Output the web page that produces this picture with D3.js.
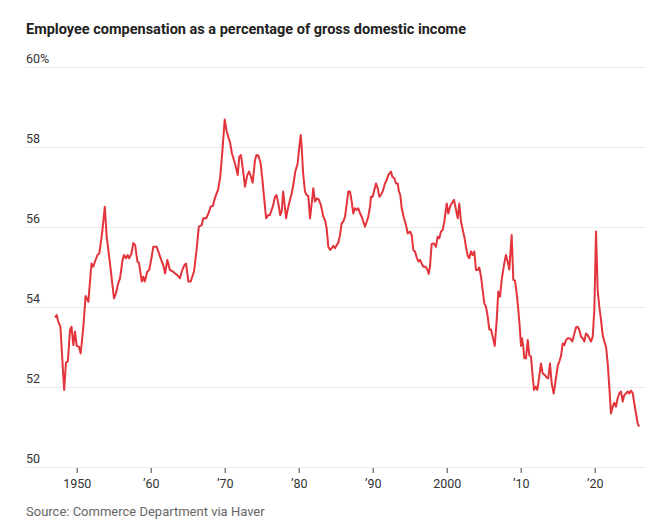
<!DOCTYPE html>
<meta charset="utf-8">
<style>
body { margin: 0; background: #fff; }
svg text { font-family: Roboto, "Noto Sans", sans-serif; }
.title { font-weight: 700; font-size: 14.5px; fill: #222; }
.grid line { stroke: #ebebeb; stroke-width: 1; }
.ylab { font-size: 12.5px; fill: #333; }
.x.axis text { font-size: 12.5px; fill: #333; }
.x.axis line { stroke: #444; }
.source { font-size: 13px; fill: #666; }
.line { fill: none; stroke: #e3343c; stroke-width: 2; stroke-linejoin: round; }
</style>
<body>
<div id="chart"></div>
<script src="https://d3js.org/d3.v7.min.js"></script>
<script>
// quarterly-ish readings, decimal year and percent of GDI
var years = [
  1947.07, 1947.3, 1947.5, 1947.8, 1948.3, 1948.55, 1948.8, 1949.1, 1949.3, 1949.55, 1949.77,
  1950.0, 1950.3, 1950.54, 1950.9, 1951.2, 1951.57, 1952.0, 1952.25, 1952.47, 1952.8,
  1953.05, 1953.4, 1953.5, 1953.8, 1954.05, 1954.6, 1955.04, 1955.3, 1955.6, 1955.85,
  1956.2, 1956.4, 1956.66, 1956.9, 1957.1, 1957.4, 1957.65, 1957.9, 1958.2, 1958.4, 1958.8,
  1959.0, 1959.2, 1959.55, 1959.8, 1960.1, 1960.35, 1960.8, 1961.2, 1961.5, 1961.7, 1961.95,
  1962.25, 1962.6, 1963.0, 1963.3, 1963.6, 1963.96, 1964.2, 1964.5, 1964.77, 1965.1, 1965.4,
  1965.85, 1966.2, 1966.5, 1966.9, 1967.1, 1967.5, 1967.8, 1968.1, 1968.4, 1968.6, 1968.9,
  1969.1, 1969.4, 1969.7, 1970.0, 1970.27, 1970.54, 1970.7, 1970.98, 1971.25, 1971.5, 1971.76,
  1971.97, 1972.2, 1972.5, 1972.74, 1973.05, 1973.3, 1973.55, 1973.78, 1974.1, 1974.3, 1974.55,
  1974.86, 1975.1, 1975.35, 1975.6, 1975.9, 1976.1, 1976.5, 1976.8, 1977.0, 1977.25, 1977.5,
  1977.7, 1977.9, 1978.05, 1978.3, 1978.5, 1978.7, 1979.05, 1979.3, 1979.54, 1979.86, 1980.04,
  1980.27, 1980.4, 1980.6, 1980.85, 1981.08, 1981.3, 1981.53, 1981.76, 1981.97, 1982.2, 1982.47,
  1982.74, 1983.0, 1983.33, 1983.55, 1983.78, 1984.0, 1984.23, 1984.46, 1984.68, 1984.9, 1985.14,
  1985.35, 1985.58, 1985.8, 1986.03, 1986.26, 1986.5, 1986.7, 1986.93, 1987.16, 1987.38, 1987.6,
  1987.84, 1988.05, 1988.3, 1988.5, 1988.73, 1988.96, 1989.2, 1989.4, 1989.64, 1989.77, 1990.0,
  1990.22, 1990.45, 1990.68, 1990.9, 1991.1, 1991.35, 1991.66, 1991.9, 1992.1, 1992.47, 1992.65,
  1992.92, 1993.15, 1993.38, 1993.55, 1993.73, 1993.92, 1994.23, 1994.5, 1994.73, 1995.04, 1995.27,
  1995.49, 1995.72, 1995.95, 1996.16, 1996.39, 1996.62, 1996.84, 1997.16, 1997.38, 1997.57, 1997.74,
  1997.97, 1998.28, 1998.55, 1998.78, 1999.0, 1999.23, 1999.46, 1999.68, 2000.0, 2000.22, 2000.45,
  2000.68, 2000.99, 2001.26, 2001.49, 2001.7, 2001.93, 2002.16, 2002.38, 2002.6, 2002.84, 2003.05,
  2003.28, 2003.5, 2003.73, 2003.96, 2004.19, 2004.4, 2004.64, 2004.86, 2005.08, 2005.31, 2005.54,
  2005.76, 2005.99, 2006.22, 2006.49, 2006.76, 2006.97, 2007.2, 2007.43, 2007.74, 2008.0, 2008.24,
  2008.46, 2008.78, 2009.0, 2009.23, 2009.46, 2009.68, 2009.9, 2010.04, 2010.18, 2010.35, 2010.49,
  2010.72, 2010.95, 2011.16, 2011.39, 2011.62, 2011.8, 2012.03, 2012.24, 2012.47, 2012.74, 2012.97,
  2013.28, 2013.5, 2013.72, 2013.96, 2014.19, 2014.46, 2014.73, 2015.0, 2015.22, 2015.45, 2015.68,
  2015.9, 2016.12, 2016.35, 2016.66, 2016.97, 2017.2, 2017.47, 2017.7, 2017.92, 2018.15, 2018.38,
  2018.6, 2018.82, 2019.05, 2019.27, 2019.5, 2019.73, 2019.95, 2020.18, 2020.4, 2020.62, 2020.85,
  2021.08, 2021.3, 2021.53, 2021.76, 2021.97, 2022.2, 2022.43, 2022.65, 2022.88, 2023.1, 2023.32,
  2023.55, 2023.78, 2024.0, 2024.22, 2024.46, 2024.68, 2024.9, 2025.14, 2025.35, 2025.58, 2025.81,
  2026.0
];
var values = [
  53.73, 53.79, 53.63, 53.5, 51.92, 52.6, 52.63, 53.42, 53.5, 53.04, 53.38,
  53.02, 53.0, 52.83, 53.5, 54.27, 54.12, 55.08, 55.0, 55.13, 55.29,
  55.33, 55.79, 55.96, 56.5, 55.75, 54.92, 54.21, 54.33, 54.58, 54.71,
  55.17, 55.29, 55.21, 55.29, 55.21, 55.33, 55.59, 55.54, 55.13, 55.1, 54.63,
  54.75, 54.63, 54.88, 54.92, 55.21, 55.5, 55.5, 55.29, 55.13, 55.04, 54.83,
  55.17, 54.92, 54.88, 54.83, 54.79, 54.71, 54.88, 55.02, 55.08, 54.63, 54.63,
  54.88, 55.42, 56.0, 56.04, 56.21, 56.21, 56.33, 56.5, 56.52, 56.67, 56.83,
  56.92, 57.25, 57.92, 58.68, 58.38, 58.21, 58.13, 57.83, 57.67, 57.5, 57.29,
  57.75, 57.79, 57.38, 57.0, 57.29, 57.38, 57.25, 57.1, 57.67, 57.79, 57.78,
  57.58, 57.17, 56.67, 56.21, 56.29, 56.29, 56.5, 56.75, 56.79, 56.58, 56.29,
  56.38, 56.88, 56.63, 56.21, 56.42, 56.58, 56.83, 57.08, 57.38, 57.58, 57.92,
  58.29, 58.0, 57.33, 56.88, 56.79, 56.77, 56.21, 56.58, 56.96, 56.63, 56.71,
  56.67, 56.54, 56.25, 56.17, 55.96, 55.5, 55.42, 55.46, 55.52, 55.46, 55.54,
  55.6, 55.79, 56.08, 56.13, 56.25, 56.58, 56.88, 56.88, 56.63, 56.33, 56.46,
  56.42, 56.46, 56.33, 56.25, 56.13, 56.0, 56.13, 56.25, 56.5, 56.75, 56.75,
  56.92, 57.08, 56.96, 56.75, 56.79, 56.88, 57.08, 57.17, 57.29, 57.38, 57.25,
  57.21, 57.08, 57.08, 56.88, 56.79, 56.46, 56.21, 56.04, 55.83, 55.88, 55.79,
  55.42, 55.38, 55.23, 55.13, 55.17, 55.08, 55.0, 55.0, 54.93, 54.82, 55.0,
  55.57, 55.58, 55.5, 55.75, 55.71, 55.88, 55.92, 56.13, 56.58, 56.33, 56.5,
  56.58, 56.67, 56.42, 56.21, 56.58, 56.13, 55.93, 55.75, 55.5, 55.27, 55.21,
  55.38, 55.29, 55.38, 54.92, 54.92, 54.98, 54.75, 54.42, 54.08, 54.0, 53.75,
  53.43, 53.43, 53.25, 53.02, 53.67, 54.38, 54.25, 54.67, 55.04, 55.29, 55.13,
  54.93, 55.79, 54.67, 54.65, 54.33, 53.92, 53.42, 53.02, 53.21, 53.0, 52.71,
  52.71, 53.17, 52.79, 52.75, 52.25, 51.92, 52.0, 51.92, 52.21, 52.58, 52.33,
  52.29, 52.23, 52.21, 52.58, 52.08, 51.83, 52.17, 52.52, 52.63, 52.77, 53.08,
  53.04, 53.17, 53.21, 53.21, 53.13, 53.29, 53.48, 53.5, 53.42, 53.25, 53.21,
  53.13, 53.33, 53.29, 53.21, 53.13, 53.25, 53.92, 55.88, 54.42, 54.0, 53.67,
  53.29, 53.13, 53.0, 52.58, 52.0, 51.33, 51.5, 51.6, 51.5, 51.71, 51.83,
  51.88, 51.63, 51.79, 51.83, 51.88, 51.83, 51.9, 51.84, 51.58, 51.33, 51.08,
  51.0
];
var xTicks = [1950, 1960, 1970, 1980, 1990, 2000, 2010, 2020];
var xTickLabels = ["1950", "\u201960", "\u201970", "\u201980", "\u201990", "2000", "\u201910", "\u201920"];
var yTicks = [50, 52, 54, 56, 58, 60];
var yTickLabels = ["50", "52", "54", "56", "58", "60%"];

var width = 672, height = 531;
var gridLeft = 25, gridRight = 645;

var data = years.map(function(y, i) { return {year: y, value: values[i]}; });

var xScale = d3.scaleLinear()
    .domain([1950, 2020])
    .range([76.7, 594.7]);
var yScale = d3.scaleLinear()
    .domain([50, 60])
    .range([466.7, 66.7]);

var svg = d3.select("#chart").append("svg")
    .attr("width", width)
    .attr("height", height);

svg.append("text")
    .attr("class", "title")
    .attr("x", 26)
    .attr("y", 34)
    .text("Employee compensation as a percentage of gross domestic income");

// horizontal grid and labels sitting on top of each line
var grid = svg.append("g").attr("class", "grid");
grid.selectAll("line")
    .data(yTicks)
  .enter().append("line")
    .attr("x1", gridLeft)
    .attr("x2", gridRight)
    .attr("y1", function(d) { return Math.round(yScale(d)) + 0.5; })
    .attr("y2", function(d) { return Math.round(yScale(d)) + 0.5; });

svg.selectAll(".ylab")
    .data(yTicks)
  .enter().append("text")
    .attr("class", "ylab")
    .attr("x", 26)
    .attr("y", function(d) { return yScale(d) - 3.5; })
    .text(function(d, i) { return yTickLabels[i]; });

var xAxis = svg.append("g")
    .attr("class", "x axis")
    .attr("transform", "translate(0," + (Math.round(yScale(50)) + 1) + ")")
    .call(d3.axisBottom(xScale)
      .tickValues(xTicks)
      .tickSize(5)
      .tickPadding(6)
      .tickFormat(function(d, i) { return xTickLabels[i]; }));
xAxis.select(".domain").remove();

var line = d3.line()
    .x(function(d) { return xScale(d.year); })
    .y(function(d) { return yScale(d.value); });

svg.append("path")
    .datum(data)
    .attr("class", "line")
    .attr("d", line);

svg.append("text")
    .attr("class", "source")
    .attr("x", 26)
    .attr("y", 516)
    .text("Source: Commerce Department via Haver");
</script>
</body>
